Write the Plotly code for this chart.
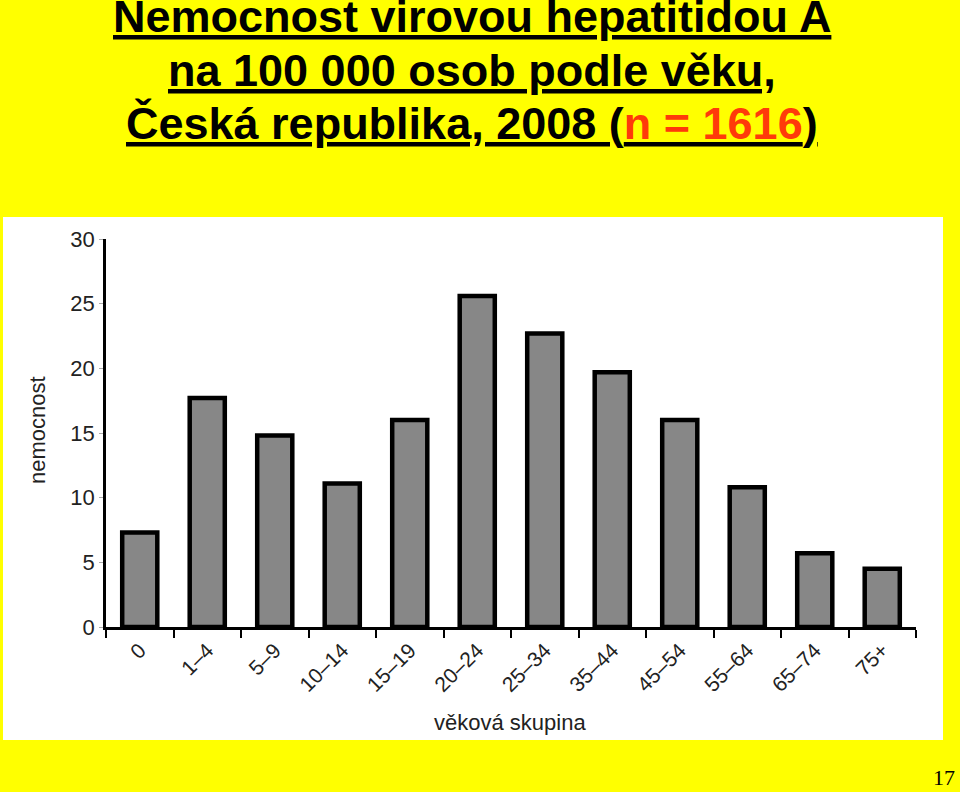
import plotly.graph_objects as go

categories = ["0", "1–4", "5–9", "10–14", "15–19", "20–24", "25–34",
              "35–44", "45–54", "55–64", "65–74", "75+"]
values = [7.3, 17.7, 14.8, 11.1, 16.0, 25.6, 22.7, 19.7, 16.0, 10.8, 5.7, 4.5]
y_ticks = [0, 5, 10, 15, 20, 25, 30]

W, H = 960, 792
L, R, T, B = 106, 44, 239, 165
pw, ph = W - L - R, H - T - B

def px(x):
    return (x - L) / pw

def py(y):
    return (H - B - y) / ph

title_lines = [
    "<b><u>Nemocnost virovou hepatitidou A</u></b>",
    "<b><u>na 100 000 osob podle věku,</u></b>",
    "<b><u>Česká republika, 2008 (<span style='color:#FF3A0A'>n = 1616</span>)</u></b>",
]
title_y = [16, 70, 124]

fig = go.Figure()
fig.add_trace(go.Bar(
    x=categories, y=values, width=0.52,
    marker=dict(color="#878787", line=dict(color="black", width=4.5)),
))

annotations = []
for txt, yy in zip(title_lines, title_y):
    annotations.append(dict(
        xref="paper", yref="paper", x=px(472), y=py(yy),
        xanchor="center", yanchor="middle", showarrow=False, text=txt,
        font=dict(family="Liberation Sans, Arial", size=45, color="black")))

annotations += [
    dict(xref="paper", yref="paper", x=px(37), y=py(430),
         xanchor="center", yanchor="middle", showarrow=False, textangle=-90,
         text="nemocnost", font=dict(size=22, color="#222")),
    dict(xref="paper", yref="paper", x=px(510), y=py(722),
         xanchor="center", yanchor="middle", showarrow=False,
         text="věková skupina", font=dict(size=22, color="#222")),
    dict(xref="paper", yref="paper", x=px(956), y=py(791),
         xanchor="right", yanchor="bottom", showarrow=False, borderpad=0,
         text="17", font=dict(family="Liberation Serif, Times New Roman", size=22, color="black")),
]

fig.update_layout(
    width=W, height=H,
    margin=dict(l=L, r=R, t=T, b=B, pad=0),
    paper_bgcolor="#FFFF00",
    plot_bgcolor="white",
    showlegend=False,
    font=dict(family="Liberation Sans, Arial", color="#222"),
    xaxis=dict(
        type="category", range=[-0.5, 11.5],
        showline=True, linecolor="black", linewidth=2.5,
        ticks="outside", tickson="boundaries", ticklen=8, tickwidth=2, tickcolor="black",
        tickangle=-45, tickfont=dict(size=21, color="#222"),
        showgrid=False,
    ),
    yaxis=dict(
        range=[0, 30], tickvals=y_ticks,
        showline=True, linecolor="black", linewidth=2.5,
        ticks="outside", ticklen=4, tickwidth=1, tickcolor="#aaa",
        tickfont=dict(size=22, color="#222"),
        showgrid=False, zeroline=False,
    ),
    shapes=[dict(type="rect", xref="paper", yref="paper",
                 x0=px(3), x1=px(943), y0=py(740), y1=py(217),
                 fillcolor="white", line=dict(width=0), layer="below")],
    annotations=annotations,
)

fig.write_html("out.html")
